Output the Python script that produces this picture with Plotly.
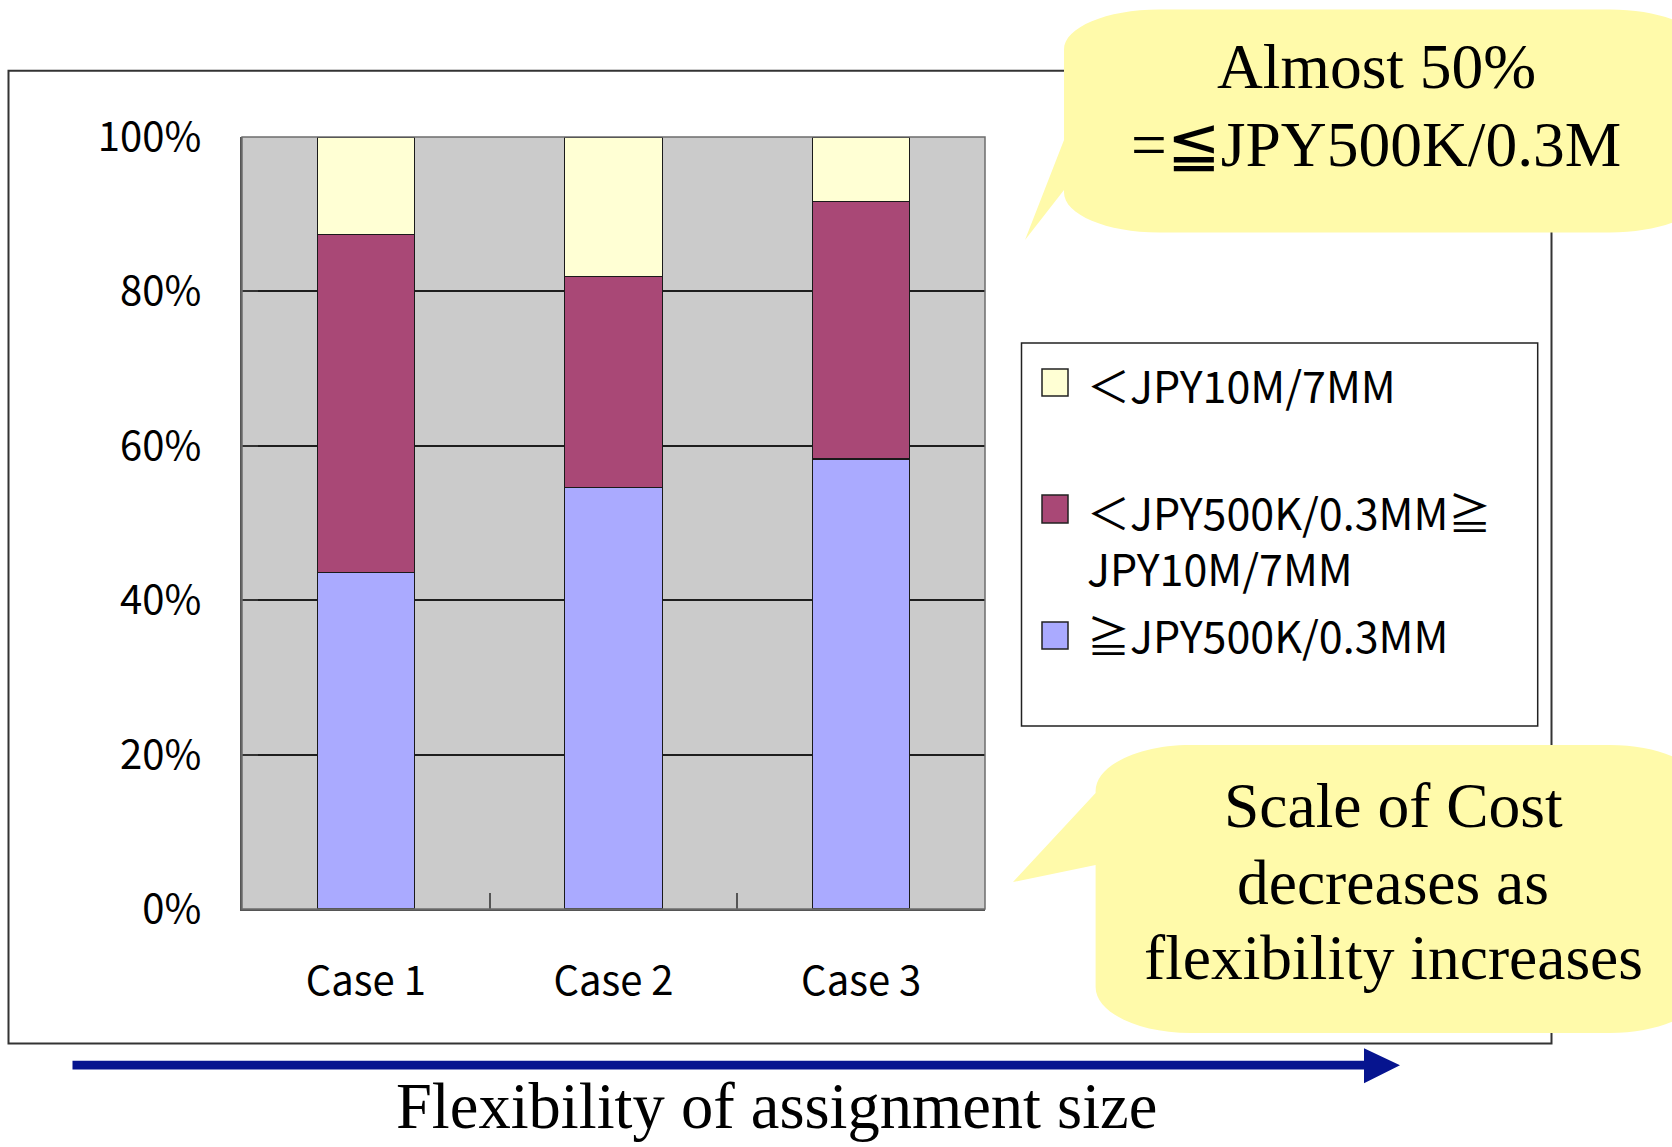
import plotly.graph_objects as go

# ---------------- data ----------------
categories = ["Case 1", "Case 2", "Case 3"]
series_names = ["≧JPY500K/0.3MM", "＜JPY500K/0.3MM≧JPY10M/7MM", "＜JPY10M/7MM"]
low_cost = [43.6, 54.6, 58.3]
mid_cost = [43.8, 27.3, 33.3]
high_cost = [12.6, 18.1, 8.4]
series_values = [low_cost, mid_cost, high_cost]
series_colors = ["#AAAAFF", "#A94876", "#FFFFD4"]
y_ticks = [0, 20, 40, 60, 80, 100]
y_tick_labels = ["0%", "20%", "40%", "60%", "80%", "100%"]
callout_top = ["Almost 50%", "=≦JPY500K/0.3M"]
callout_bottom = ["Scale of Cost", "decreases as", "flexibility increases"]
x_caption = "Flexibility of assignment size"

# ---------------- geometry helpers ----------------
W, H = 1672, 1147
ML, MR, MT, MB = 242, 687, 137, 238
PW = W - ML - MR
PH = H - MT - MB


def px(x):
    return (x - ML) / PW


def py(y):
    return (H - MB - y) / PH


def P(x, y):
    return f"{px(x):.5f},{py(y):.5f}"


def bubble_path(L, T, R, B, rx, ry, tail_top, tip, tail_bot):
    k = 0.5523
    s = f"M{P(L + rx, T)} L{P(R - rx, T)} "
    s += f"C{P(R - rx + k * rx, T)} {P(R, T + ry - k * ry)} {P(R, T + ry)} "
    s += f"L{P(R, B - ry)} "
    s += f"C{P(R, B - ry + k * ry)} {P(R - rx + k * rx, B)} {P(R - rx, B)} "
    s += f"L{P(L + rx, B)} "
    s += f"C{P(L + rx - k * rx, B)} {P(L, B - ry + k * ry)} {P(L, B - ry)} "
    s += f"L{P(L, tail_bot)} L{P(tip[0], tip[1])} L{P(L, tail_top)} "
    s += f"L{P(L, T + ry)} "
    s += f"C{P(L, T + ry - k * ry)} {P(L + rx - k * rx, T)} {P(L + rx, T)} Z"
    return s


AXIS_FONT = dict(family="Noto Sans CJK JP, Noto Sans, sans-serif", size=40, color="#000000")
LEGEND_FONT = dict(family="Noto Sans CJK JP, Noto Sans, sans-serif", size=43, color="#000000")
SERIF_FONT = dict(family="Times New Roman, Liberation Serif, serif", size=63.5, color="#000000")

fig = go.Figure()
for name, vals, col in zip(series_names, series_values, series_colors):
    fig.add_trace(go.Bar(
        x=categories, y=vals, name=name,
        marker=dict(color=col, line=dict(color="#1a1a1a", width=1.2)),
        showlegend=False, hoverinfo="x+y+name",
    ))

shapes = []
# outer chart frame
shapes.append(dict(type="rect", xref="paper", yref="paper",
                   x0=px(8.5), x1=px(1551.5), y0=py(1043.5), y1=py(70.7),
                   line=dict(color="#333333", width=2), fillcolor="rgba(0,0,0,0)", layer="above"))
# plot-area border (top / right)
shapes.append(dict(type="rect", xref="paper", yref="paper", x0=0, x1=1, y0=0, y1=1,
                   line=dict(color="#6e6e6e", width=1.5), layer="above"))
# callout bubbles
shapes.append(dict(type="path", xref="paper", yref="paper",
                   path=bubble_path(1064, 9.5, 1705, 232.5, 95, 40, 140, (1025, 240), 190),
                   fillcolor="#FFFAAA", line=dict(width=0), layer="above"))
shapes.append(dict(type="path", xref="paper", yref="paper",
                   path=bubble_path(1095.6, 745, 1705, 1033, 95, 46, 793, (1013, 882), 865),
                   fillcolor="#FFFAAA", line=dict(width=0), layer="above"))
# flexibility arrow
arrow = (f"M{P(72.5, 1060.7)} L{P(1364, 1060.7)} L{P(1364, 1048.3)} L{P(1400, 1065.3)} "
         f"L{P(1364, 1083.3)} L{P(1364, 1069.5)} L{P(72.5, 1069.5)} Z")
shapes.append(dict(type="path", xref="paper", yref="paper", path=arrow,
                   fillcolor="#06148F", line=dict(width=0), layer="above"))
# legend box
shapes.append(dict(type="rect", xref="paper", yref="paper",
                   x0=px(1021.5), x1=px(1537.7), y0=py(726), y1=py(343),
                   fillcolor="#FFFFFF", line=dict(color="#222222", width=1.5), layer="above"))

annotations = []
# legend entries (top-to-bottom: reverse of stacking order); the long name wraps after "≧"
legend_rows = [
    (2, 384, (369, 396)),
    (1, 539, (495, 523)),
    (0, 634, (622, 649)),
]
for idx, yc, (sy0, sy1) in legend_rows:
    shapes.append(dict(type="rect", xref="paper", yref="paper",
                       x0=px(1042), x1=px(1068), y0=py(sy1), y1=py(sy0),
                       fillcolor=series_colors[idx], line=dict(color="#222222", width=1.5),
                       layer="above"))
    name = series_names[idx]
    if "≧" in name and not name.startswith("≧"):
        cut = name.index("≧") + 1
        name = name[:cut] + "<br>" + name[cut:]
    annotations.append(dict(xref="paper", yref="paper", x=px(1085), y=py(yc),
                            xanchor="left", yanchor="middle", align="left", text=name,
                            showarrow=False, font=LEGEND_FONT))

for yc, txt in zip([67, 144], callout_top):
    annotations.append(dict(xref="paper", yref="paper", x=px(1376), y=py(yc),
                            xanchor="center", yanchor="middle", text=txt,
                            showarrow=False, font=SERIF_FONT))
for yc, txt in zip([805, 882, 957.5], callout_bottom):
    annotations.append(dict(xref="paper", yref="paper", x=px(1393), y=py(yc),
                            xanchor="center", yanchor="middle", text=txt,
                            showarrow=False, font=SERIF_FONT))
annotations.append(dict(xref="paper", yref="paper", x=px(776), y=py(1106),
                        xanchor="center", yanchor="middle", text=x_caption,
                        showarrow=False, font=dict(SERIF_FONT, size=64.5)))

fig.update_layout(
    width=W, height=H,
    margin=dict(l=ML, r=MR, t=MT, b=MB, autoexpand=False),
    paper_bgcolor="#FFFFFF", plot_bgcolor="#CBCBCB",
    barmode="stack", bargap=0.607,
    showlegend=False,
    shapes=shapes, annotations=annotations,
    xaxis=dict(
        type="category", showgrid=False, showline=True, linecolor="#555555", linewidth=1.5,
        ticks="inside", ticklen=16, tickcolor="#555555", tickwidth=1.5,
        tickson="boundaries", tickfont=AXIS_FONT, ticklabelstandoff=36,
        zeroline=False, mirror=False,
    ),
    yaxis=dict(
        range=[0, 100], tickmode="array", tickvals=y_ticks, ticktext=y_tick_labels,
        showgrid=True, gridcolor="#1e1e1e", gridwidth=1.5,
        showline=True, linecolor="#555555", linewidth=1.5,
        ticks="inside", ticklen=16, tickcolor="#333333", tickwidth=2,
        tickfont=AXIS_FONT, ticklabelstandoff=31, zeroline=False,
    ),
    font=AXIS_FONT,
)

fig.write_html("out.html", config={"displayModeBar": False},
               post_script="document.body.style.margin='0px';")
